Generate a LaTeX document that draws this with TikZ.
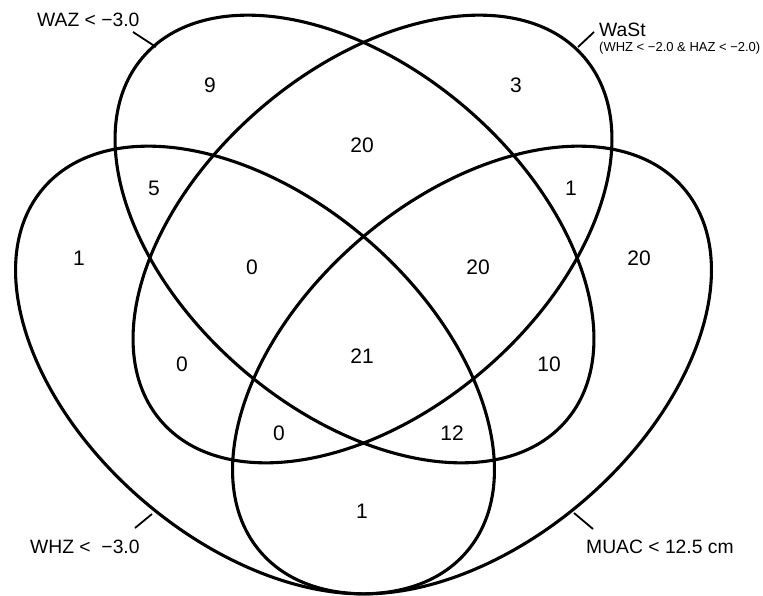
\documentclass[tikz,border=0pt]{standalone}
\usepackage{fontspec}
\setmainfont{Liberation Sans}
\usetikzlibrary{shapes.geometric}
\begin{document}
\begin{tikzpicture}[x=1pt,y=-1pt,
  venn/.style={draw, ellipse, line width=3.1pt, minimum width=558pt, minimum height=344pt, inner sep=0pt, outer sep=0pt},
  num/.style={font=\fontsize{21}{25}\selectfont, inner sep=0pt},
  lab/.style={font=\fontsize{19.3}{23}\selectfont, inner sep=0pt},
  sublab/.style={font=\fontsize{13}{16}\selectfont, inner sep=0pt},
  tickline/.style={line width=1.8pt}]
\useasboundingbox (0,0) rectangle (763,596);
% ellipses
\node[venn, rotate=-40.7] (waz)  at (354.5,239) {};
\node[venn, rotate=40.7]  (wast) at (372.5,239) {};
\node[venn, rotate=-40.7] (whz)  at (255,370) {};
\node[venn, rotate=40.7]  (muac) at (472,370) {};
% region counts
\node[num] (n1)  at (210,85)  {9};
\node[num] (n2)  at (516,85)  {3};
\node[num] (n3)  at (362,145) {20};
\node[num] (n4)  at (154,188) {5};
\node[num] (n5)  at (571,188) {1};
\node[num] (n6)  at (79,258)  {1};
\node[num] (n7)  at (252,267) {0};
\node[num] (n8)  at (478,267) {20};
\node[num] (n9)  at (639,258) {20};
\node[num] (n10) at (182,364) {0};
\node[num] (n11) at (362,356) {21};
\node[num] (n12) at (549,364) {10};
\node[num] (n13) at (279,433) {0};
\node[num] (n14) at (452,433) {12};
\node[num] (n15) at (362,511) {1};
% set labels
\node[lab, anchor=base west] (lwaz) at (37,27) {WAZ < −3.0};
\node[lab, anchor=base west] (lwast) at (599,37) {WaSt};
\node[sublab, anchor=base west] (lwastsub) at (599,52) {(WHZ < −2.0 \& HAZ < −2.0)};
\node[lab, anchor=base west] (lwhz) at (30,553) {WHZ <\ \ −3.0};
\node[lab, anchor=base west] (lmuac) at (586,553) {MUAC < 12.5 cm};
% label ticks
\coordinate (twaza) at (133,32);  \coordinate (twazb) at (156,47);
\coordinate (twasta) at (594,32); \coordinate (twastb) at (578,47);
\coordinate (twhza) at (135,528); \coordinate (twhzb) at (152,514);
\coordinate (tmuaca) at (593,529); \coordinate (tmuacb) at (574,513);
\draw[tickline] (twaza) -- (twazb);
\draw[tickline] (twasta) -- (twastb);
\draw[tickline] (twhza) -- (twhzb);
\draw[tickline] (tmuaca) -- (tmuacb);
\end{tikzpicture}
\end{document}
